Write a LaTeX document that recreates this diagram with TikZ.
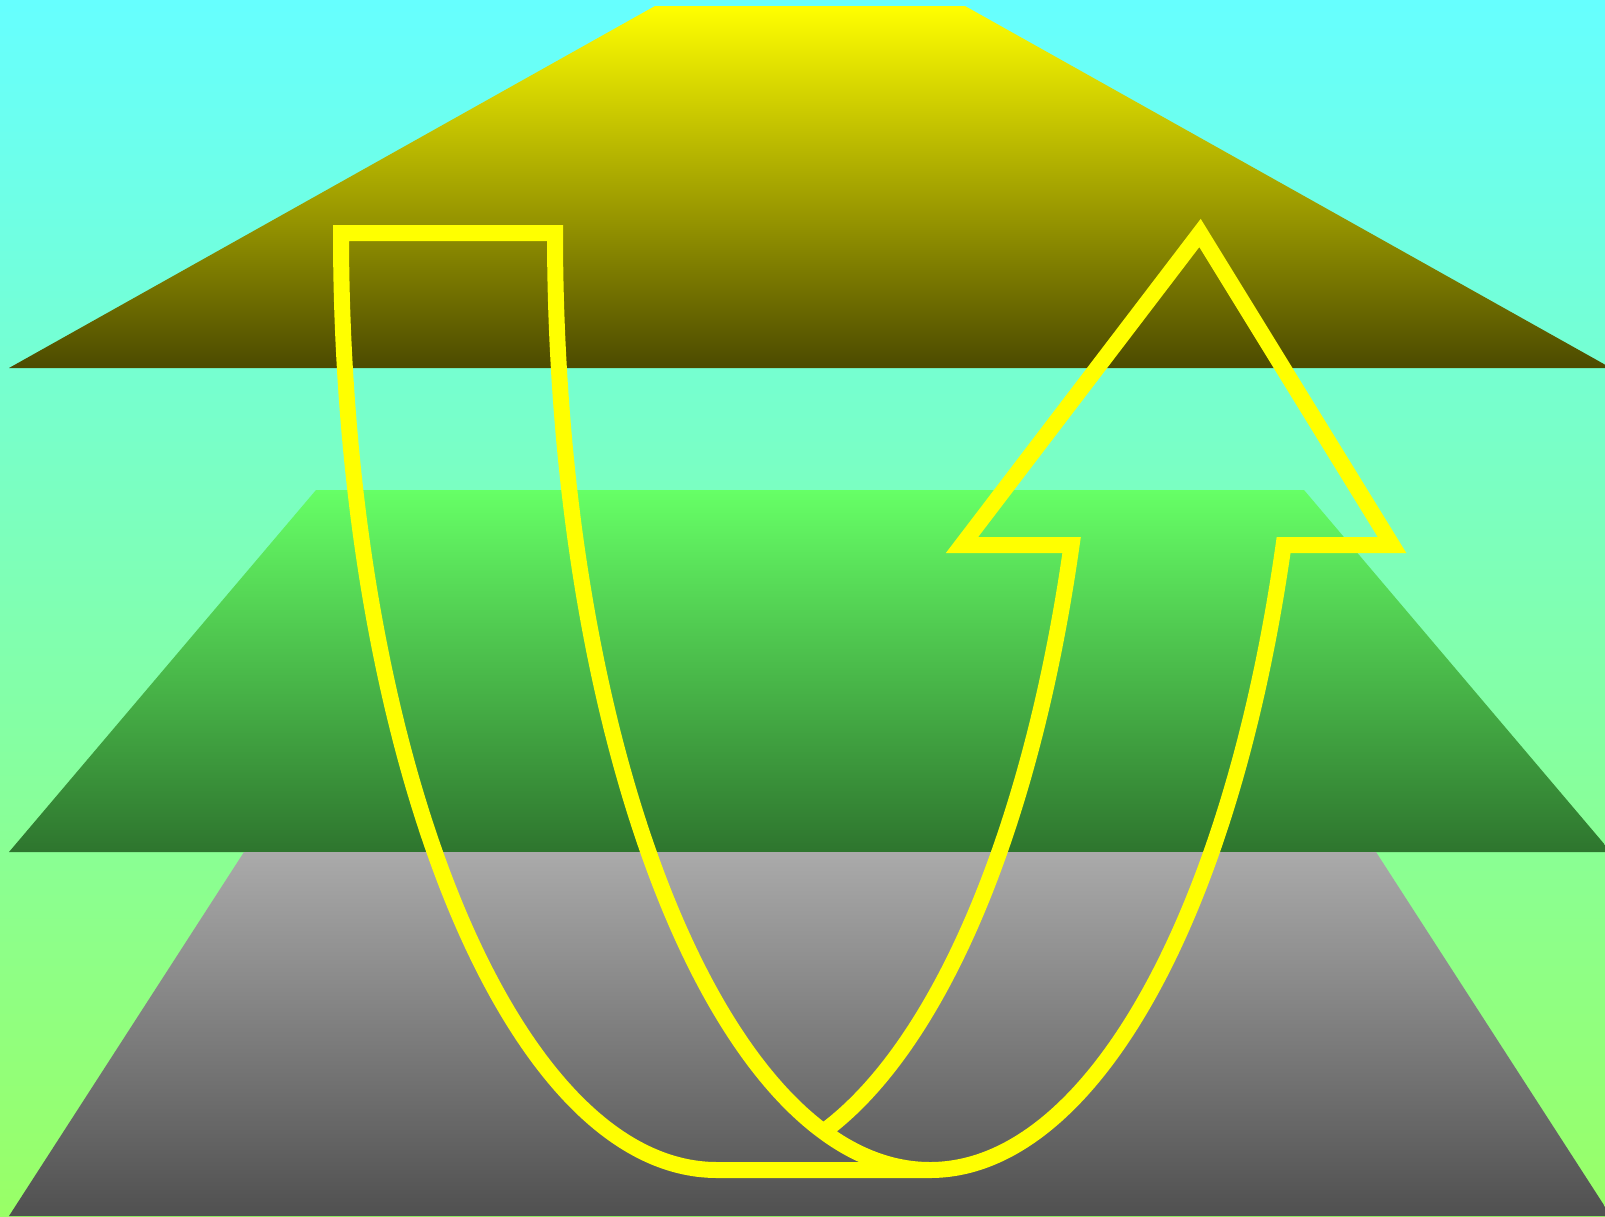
\documentclass[tikz,border=0pt]{standalone}
\usepackage{tikz}
\definecolor{skytop}{HTML}{66FFFF}
\definecolor{skybot}{HTML}{99FF66}
\definecolor{rooftop}{HTML}{FFFF00}
\definecolor{roofmid}{HTML}{B4B200}
\definecolor{roofbot}{HTML}{4C4A00}
\definecolor{midtop}{HTML}{66FF66}
\definecolor{midmid}{HTML}{50C650}
\definecolor{midbot}{HTML}{2E752E}
\definecolor{basetop}{HTML}{AAAAAA}
\definecolor{basebot}{HTML}{505050}
\definecolor{ribbon}{HTML}{FFFF00}

\begin{document}
\begin{tikzpicture}[x=1pt,y=-1pt]
  \useasboundingbox (0,0) rectangle (1605,1216);
  \clip (0,0) rectangle (1605,1216);
  \shade[top color=skytop,bottom color=skybot] (0,0) rectangle (1605,1216);
  % three layers
  \shade[top color=rooftop,middle color=roofmid,bottom color=roofbot] (655,6)--(965,6)--(1611,368)--(9,368)--cycle;
  \shade[top color=midtop,middle color=midmid,bottom color=midbot] (316,490)--(1304,490)--(1611,852)--(9,852)--cycle;
  \shade[top color=basetop,bottom color=basebot] (244,852)--(1376,852)--(1611,1216)--(9,1216)--cycle;
  % u-turn ribbon
  \draw[ribbon,line width=16pt,miter limit=20]
    (823.6,1131.5) .. controls (939.2,1046.3) and (1031.5,828.3) .. (1071.6,545)
    -- (962,545) -- (1200,233) -- (1392,545) -- (1283.6,545)
    .. controls (1230.6,919.6) and (1089,1170) .. (930,1170)
    -- (717,1170) .. controls (509.3,1170) and (341,750.5) .. (341,233)
    -- (555,233) .. controls (555,750.5) and (722.9,1170) .. (930,1170);
\end{tikzpicture}
\end{document}
